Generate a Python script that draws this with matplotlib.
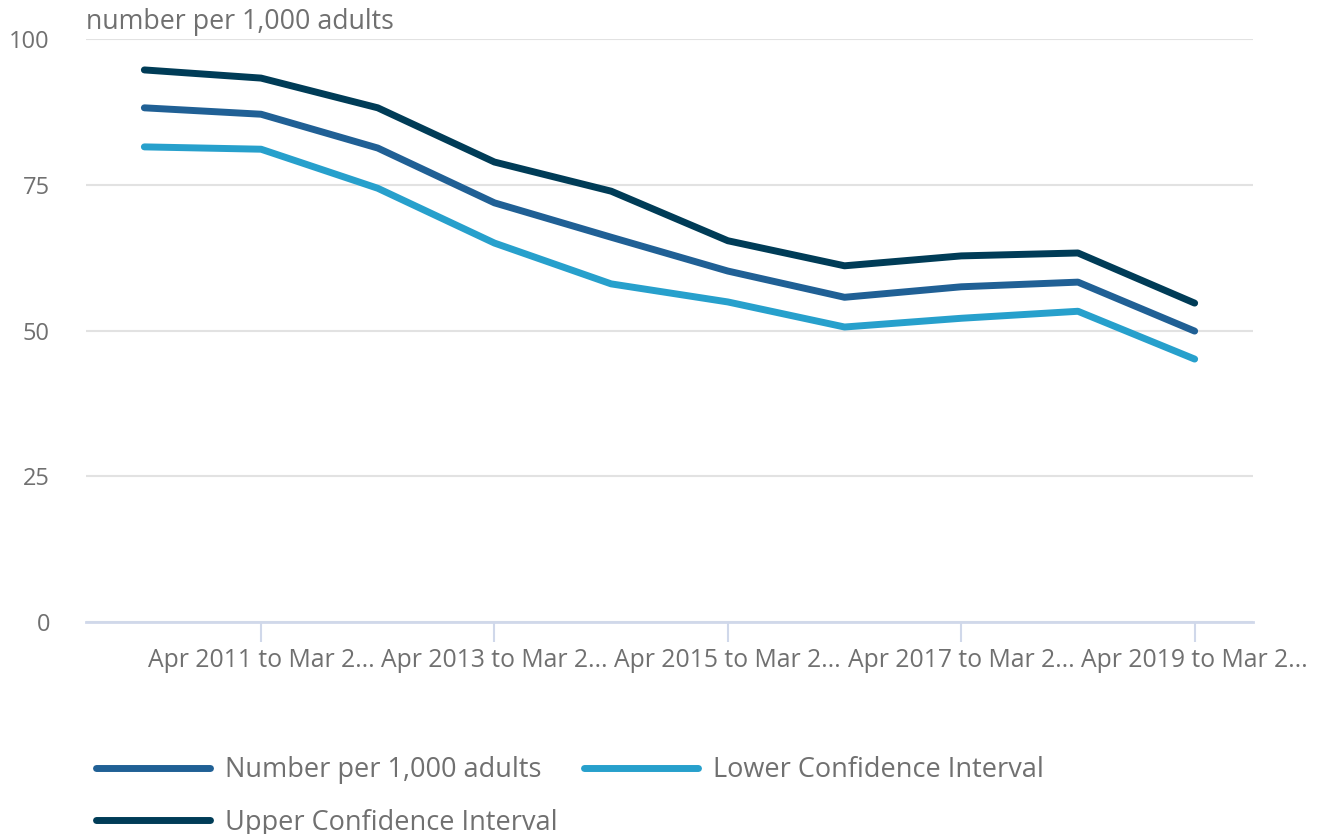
import matplotlib.pyplot as plt

plt.rcParams['font.family'] = ['Open Sans', 'DejaVu Sans']

# Financial years, Apr 2010 to Mar 2011 ... Apr 2019 to Mar 2020
periods = ['Apr %d to Mar %d' % (y, y + 1) for y in range(2010, 2020)]

rate = [88.2, 87.1, 81.3, 71.9, 66.0, 60.2, 55.7, 57.5, 58.3, 49.9]
lower_ci = [81.5, 81.1, 74.4, 65.0, 58.0, 54.9, 50.6, 52.1, 53.3, 45.1]
upper_ci = [94.7, 93.3, 88.2, 78.9, 73.9, 65.4, 61.1, 62.8, 63.3, 54.7]

grey = '#707070'

fig = plt.figure(figsize=(13.17, 8.34), dpi=100)
ax = fig.add_axes([0.0653, 0.2542, 0.8861, 0.699])

x = range(len(periods))
style = dict(lw=5, solid_capstyle='round', solid_joinstyle='round', zorder=3)
l1, = ax.plot(x, rate, color='#206095', label='Number per 1,000 adults', **style)
l2, = ax.plot(x, lower_ci, color='#27a0cc', label='Lower Confidence Interval', **style)
l3, = ax.plot(x, upper_ci, color='#003c57', label='Upper Confidence Interval', **style)

ax.set_xlim(-0.5, len(periods) - 0.5)
ax.set_ylim(0, 100)
ax.set_yticks([0, 25, 50, 75, 100])
ax.grid(axis='y', color='#e2e2e2', lw=1.5)
ax.set_axisbelow(True)
for s in ['top', 'right', 'left']:
    ax.spines[s].set_visible(False)
ax.spines['bottom'].set_color('#d0d8ea')
ax.spines['bottom'].set_linewidth(2)

# every other period is labelled, cut short like the original
tick_pos = list(range(1, len(periods), 2))
ax.set_xticks(tick_pos)
ax.set_xticklabels([periods[i][:17] + '...' for i in tick_pos])
ax.tick_params(axis='x', length=14.5, width=1.5, color='#d0d8ea', labelcolor=grey,
               labelsize=17.8, pad=4)
ax.tick_params(axis='y', length=0, labelcolor=grey, labelsize=17, pad=26)

ax.text(0, 1.006, 'number per 1,000 adults', transform=ax.transAxes, color=grey,
        fontsize=19.3, va='bottom', ha='left')

# row-major order: Number, Lower / Upper
fig.legend([l1, l3, l2], [l1.get_label(), l3.get_label(), l2.get_label()],
           loc='upper left', bbox_to_anchor=(0.073, 0.093), ncol=2, frameon=False,
           fontsize=19.5, handlelength=4.2, handletextpad=0.55, columnspacing=1.0,
           labelspacing=0.9, labelcolor=grey, borderaxespad=0, borderpad=0)

plt.savefig('out.png', dpi=100)
